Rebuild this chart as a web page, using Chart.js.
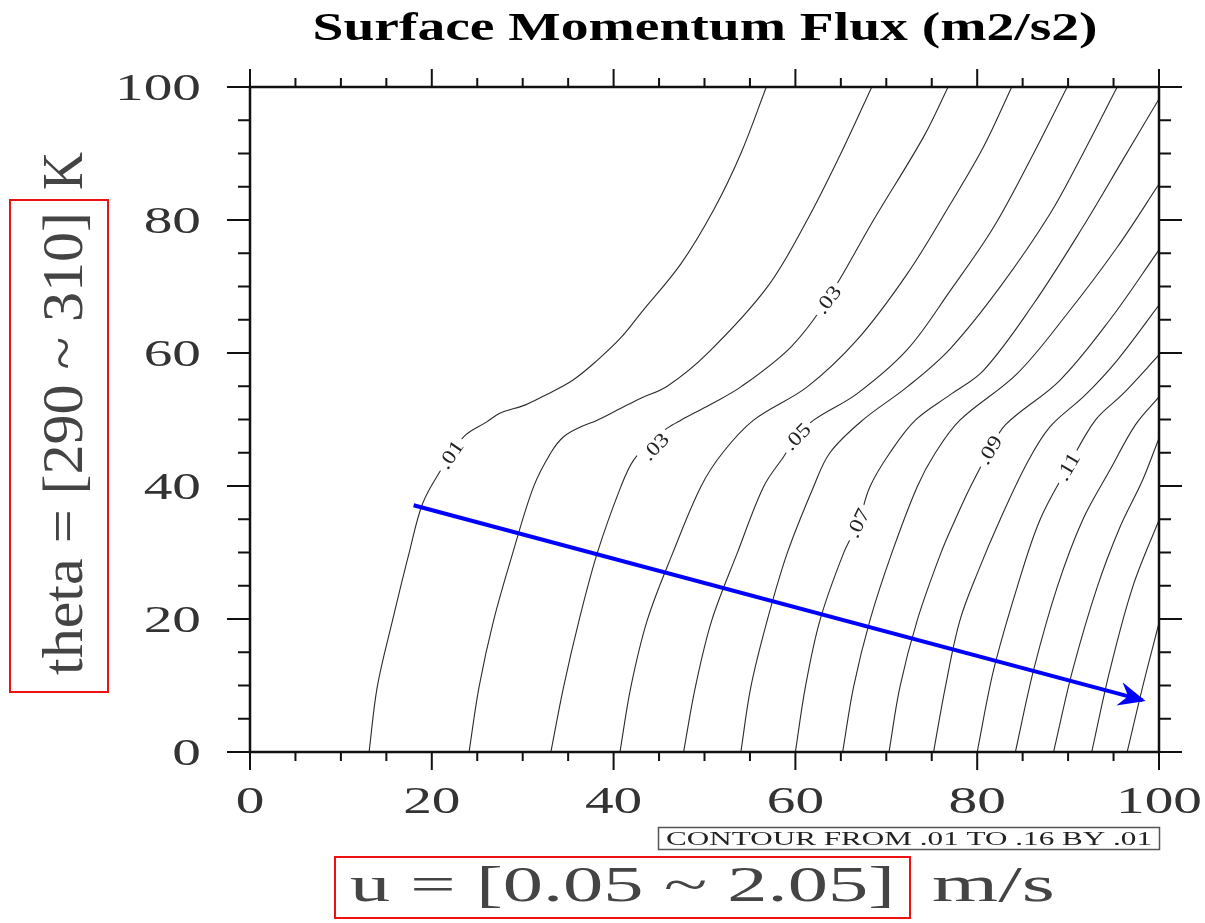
<!DOCTYPE html>
<html><head><meta charset="utf-8">
<script src="https://cdn.jsdelivr.net/npm/chart.js@4.4.1/dist/chart.umd.min.js"></script>
<style>html,body{margin:0;padding:0;background:#fff}#wrap{width:1205px;height:923px}</style>
</head><body><div id="wrap"><canvas id="c" width="1205" height="923"></canvas></div>
<script>
// ---- data (u index 0..100, theta index 0..100) ----
const contourLevels = ['.01','.02','.03','.04','.05','.06','.07','.08','.09','.10','.11','.12','.13','.14','.15'];
const c01_u = [13.1,14.0,15.7,17.5,19.0,21.0,23.5,26.0,27.6,30.3,32.7,35.5,38.2,40.8,43.0,47.4,51.0,54.0,56.8];
const c01_t = [0,9.8,19.9,29.9,37.4,42.4,47.4,49.6,51.0,52.2,53.8,55.9,58.9,62.3,66.0,73.4,81.5,90.0,100];
const c02_u = [24.1,25.2,26.8,28.9,31.2,33.1,34.5,36.4,38.2,40.8,43.0,45.9,50.3,56.9,61.3,65.0,68.4];
const c02_t = [0,9.8,19.8,29.9,39.9,45.0,47.4,48.9,49.9,51.7,53.2,55.0,59.9,69.9,80.0,90.0,100];
const c03_u = [33.1,34.5,36.2,38.2,40.8,42.2,44.3,45.9,47.4,50.7,54.0,59.5,63.5,68.6,74.1,76.8];
const c03_t = [0,9.8,19.8,29.9,39.9,43.9,46.9,48.7,49.9,52.3,54.9,60.9,68.0,80.0,92.5,100];
const c04_u = [40.7,41.9,43.7,46.5,49.6,52.0,55.4,61.3,66.8,72.3,77.0,80.7,83.8];
const c04_t = [0,9.8,19.8,29.9,39.9,45.0,49.9,54.9,62.0,71.9,82.3,91.0,100];
const c05_u = [47.7,49.0,50.8,53.6,56.5,58.7,60.2,62.0,66.8,72.3,77.0,81.8,86.2,89.9];
const c05_t = [0,9.8,19.8,29.9,39.9,44.4,47.4,49.9,53.9,60.5,69.3,78.9,90.0,100];
const c06_u = [54.0,55.1,56.9,59.1,62.0,63.8,67.4,72.3,77.0,82.5,88.0,91.6,95.4];
const c06_t = [0,9.8,19.8,29.9,39.9,45.0,49.9,54.9,60.6,69.9,80.9,89.9,100];
const c07_u = [60.0,61.1,62.7,65.3,66.9,68.2,70.4,73.2,77.0,80.7,86.2,91.6,96.0,100];
const c07_t = [0,9.8,19.8,29.9,34.4,39.9,45.0,49.9,53.7,57.4,67.4,78.9,89.0,98.2];
const c08_u = [65.2,66.4,68.2,70.6,73.4,75.4,78.1,84.4,89.9,95.4,100];
const c08_t = [0,9.8,19.8,29.9,39.9,45.0,49.9,56.9,65.9,75.9,85.4];
const c09_u = [70.3,71.5,73.4,76.0,77.6,79.3,81.4,83.1,89.1,94.6,100];
const c09_t = [0,9.8,19.8,29.9,35.0,40.0,45.4,49.2,55.9,65.0,75.5];
const c10_u = [75.2,76.5,78.1,80.2,82.5,85.5,88.0,91.9,95.4,100];
const c10_t = [0,9.8,19.8,27.5,34.9,43.5,48.9,53.7,58.9,67.2];
const c11_u = [80.0,81.8,84.4,86.9,90.0,93.0,96.0,100];
const c11_t = [0,12.3,24.8,34.9,42.9,49.9,53.8,59.7];
const c12_u = [84.2,86.2,88.8,91.6,94.6,97.4,100];
const c12_t = [0,12.3,24.8,34.9,42.4,49.2,53.4];
const c13_u = [88.4,90.5,93.2,95.7,98.2,100];
const c13_t = [0,12.3,24.8,33.8,40.9,47.2];
const c14_u = [92.6,94.6,97.1,100];
const c14_t = [0,12.3,24.8,34.9];
const c15_u = [96.5,98.2,100];
const c15_t = [0,9.8,19.4];

const labelText  = ['.01','.03','.03','.05','.07','.09','.11'];
const labelLevel = [0,2,2,4,6,8,10];
const labelU = [22.1,44.6,63.6,60.2,66.9,81.4,90.0];
const labelT = [44.7,45.9,68.0,47.4,34.4,45.4,42.9];

const arrowU = [18.0,98.2];
const arrowT = [37.1,7.8];

const xTickValues = [0,20,40,60,80,100];
const yTickValues = [0,20,40,60,80,100];
const minorStep = 5;

const titleText = 'Surface Momentum Flux (m2/s2)';
const xTitleBoxed = 'u = [0.05 ~ 2.05]';
const xTitleUnit = 'm/s';
const yTitleBoxed = 'theta = [290 ~ 310]';
const yTitleUnit = 'K';
const infoText = 'CONTOUR FROM .01 TO .16 BY .01';

// ---- build datasets ----
const cu = [c01_u,c02_u,c03_u,c04_u,c05_u,c06_u,c07_u,c08_u,c09_u,c10_u,c11_u,c12_u,c13_u,c14_u,c15_u];
const ct = [c01_t,c02_t,c03_t,c04_t,c05_t,c06_t,c07_t,c08_t,c09_t,c10_t,c11_t,c12_t,c13_t,c14_t,c15_t];

const datasets = [{
  label: 'path',
  data: arrowU.map((u,i)=>({x:u, y:arrowT[i]})),
  showLine: true, borderColor: '#0000ff', borderWidth: 4, pointRadius: 0, tension: 0
}];
contourLevels.forEach((lv,i)=>{
  datasets.push({
    label: lv,
    data: cu[i].map((u,k)=>({x:u, y:ct[i][k]})),
    showLine: true, borderColor: '#2b2b2b', borderWidth: 1.1, pointRadius: 0,
    tension: 0.35
  });
});

function stretched(ctx, txt, x, y, font, align, sx, sy, rot, baseline){
  ctx.save();
  ctx.translate(x,y);
  if (rot) ctx.rotate(rot);
  ctx.scale(sx, sy);
  ctx.font = font;
  ctx.textAlign = align;
  ctx.textBaseline = baseline || 'alphabetic';
  ctx.fillText(txt, 0, 0);
  ctx.restore();
}

const decor = {
  id: 'decor',
  afterDatasetsDraw(chart){
    const ctx = chart.ctx, xs = chart.scales.x, ys = chart.scales.y;
    // contour labels
    labelText.forEach((t,i)=>{
      const px = xs.getPixelForValue(labelU[i]), py = ys.getPixelForValue(labelT[i]);
      const li = labelLevel[i];
      const pts = cu[li].map((u,k)=>[xs.getPixelForValue(u), ys.getPixelForValue(ct[li][k])]);
      let best = 0, bd = 1e9;
      for (let k=0;k<pts.length-1;k++){
        const mx=(pts[k][0]+pts[k+1][0])/2, my=(pts[k][1]+pts[k+1][1])/2;
        const d=(mx-px)**2+(my-py)**2; if(d<bd){bd=d;best=k;}
      }
      const ang = Math.atan2(pts[best+1][1]-pts[best][1], pts[best+1][0]-pts[best][0]);
      ctx.save();
      ctx.translate(px,py); ctx.rotate(ang);
      ctx.font = '20px "Liberation Serif"';
      const w = ctx.measureText(t).width*1.2;
      ctx.fillStyle = '#fff';
      ctx.fillRect(-w/2-4, -9, w+8, 18);
      ctx.scale(1.2,1);
      ctx.fillStyle = '#222';
      ctx.textAlign='center'; ctx.textBaseline='middle';
      ctx.fillText(t, 0, 1);
      ctx.restore();
    });
    // arrow head
    const x0 = xs.getPixelForValue(arrowU[0]), y0 = ys.getPixelForValue(arrowT[0]);
    const x1 = xs.getPixelForValue(arrowU[1]), y1 = ys.getPixelForValue(arrowT[1]);
    const L = Math.hypot(x1-x0,y1-y0), dx=(x1-x0)/L, dy=(y1-y0)/L, nx=-dy, ny=dx;
    ctx.save();
    ctx.fillStyle='#0000ff';
    ctx.beginPath();
    ctx.moveTo(x1+3*dx, y1+3*dy);
    ctx.lineTo(x1-24*dx+12*nx, y1-24*dy+12*ny);
    ctx.lineTo(x1-15*dx, y1-15*dy);
    ctx.lineTo(x1-24*dx-12*nx, y1-24*dy-12*ny);
    ctx.closePath(); ctx.fill();
    ctx.restore();
  },
  afterDraw(chart){
    const ctx = chart.ctx, xs = chart.scales.x, ys = chart.scales.y, a = chart.chartArea;
    ctx.save();
    // frame
    ctx.strokeStyle='#111'; ctx.lineWidth=2.5;
    ctx.strokeRect(a.left, a.top, a.right-a.left, a.bottom-a.top);
    // ticks
    ctx.lineWidth=2;
    ctx.beginPath();
    for (let v=0; v<=100; v+=minorStep){
      const major = v%20===0;
      const px = xs.getPixelForValue(v), py = ys.getPixelForValue(v);
      const lv = major?18:9, lh = major?23:12;
      ctx.moveTo(px, a.bottom); ctx.lineTo(px, a.bottom+lv);
      ctx.moveTo(px, a.top); ctx.lineTo(px, a.top-lv);
      ctx.moveTo(a.left, py); ctx.lineTo(a.left-lh, py);
      ctx.moveTo(a.right, py); ctx.lineTo(a.right+lh, py);
    }
    ctx.stroke();
    // tick labels
    ctx.fillStyle='#333';
    const tf = '37px "Liberation Serif"';
    yTickValues.forEach(v=>{
      stretched(ctx, String(v), 201, ys.getPixelForValue(v)+13, tf, 'right', 1.55, 1);
    });
    xTickValues.forEach(v=>{
      stretched(ctx, String(v), xs.getPixelForValue(v), 813, tf, 'center', 1.55, 1);
    });
    // title
    ctx.fillStyle='#000';
    ctx.font = 'bold 40px "Liberation Serif"';
    let w = ctx.measureText(titleText).width;
    stretched(ctx, titleText, 705, 40, 'bold 40px "Liberation Serif"', 'center', 785/w, 1);
    // info box
    ctx.fillStyle='#222';
    ctx.font = '19px "Liberation Serif"';
    w = ctx.measureText(infoText).width;
    stretched(ctx, infoText, 909, 845, '19px "Liberation Serif"', 'center', 486/w, 1);
    ctx.strokeStyle='#555'; ctx.lineWidth=1.5;
    ctx.strokeRect(658.5, 827.5, 501, 22);
    // x title
    ctx.fillStyle='#444';
    const xf = '50px "Liberation Serif"';
    ctx.font = xf;
    w = ctx.measureText(xTitleBoxed).width;
    stretched(ctx, xTitleBoxed, 350, 901, xf, 'left', 545/w, 1);
    w = ctx.measureText(xTitleUnit).width;
    stretched(ctx, xTitleUnit, 932, 901, xf, 'left', 123/w, 1);
    // y title (rotated)
    const yf = '44px "Liberation Serif"';
    ctx.font = yf;
    w = ctx.measureText(yTitleBoxed).width;
    stretched(ctx, yTitleBoxed, 82, 675, yf, 'left', 463/w, 1.3, -Math.PI/2);
    w = ctx.measureText(yTitleUnit).width;
    stretched(ctx, yTitleUnit, 82, 190, yf, 'left', 1.2, 1.3, -Math.PI/2);
    // red boxes
    ctx.strokeStyle='#ee1111'; ctx.lineWidth=2;
    ctx.strokeRect(335, 857, 575, 61);
    ctx.strokeRect(10, 200, 98, 492);
    ctx.restore();
  }
};

new Chart(document.getElementById('c'), {
  type: 'scatter',
  data: { datasets },
  options: {
    responsive: false, animation: false, devicePixelRatio: 1,
    layout: { padding: { left: 250, right: 46, top: 87, bottom: 171 } },
    scales: {
      x: { type:'linear', min:0, max:100, display:false },
      y: { type:'linear', min:0, max:100, display:false }
    },
    plugins: { legend:{display:false}, tooltip:{enabled:false}, title:{display:false} },
    elements: { line: { borderCapStyle: 'butt' } }
  },
  plugins: [decor]
});
</script>
</body></html>
